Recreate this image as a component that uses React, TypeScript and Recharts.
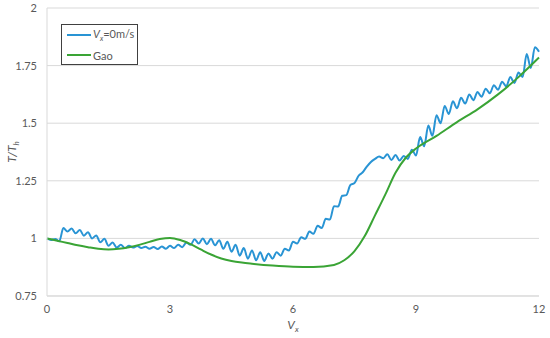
import { LineChart, Line, XAxis, YAxis, CartesianGrid } from 'recharts'

// blue series, sampled every 0.1 from 0 to 12
const blueStep = 0.1
const blueValues = [
  1.000, 0.993, 0.997, 0.988, 1.045, 1.030, 1.043, 1.022, 1.036, 1.012,
  1.027, 1.000, 1.013, 0.983, 0.998, 0.968, 0.982, 0.960, 0.972, 0.958,
  0.968, 0.960, 0.967, 0.958, 0.964, 0.955, 0.963, 0.954, 0.965, 0.955,
  0.968, 0.958, 0.972, 0.962, 0.982, 0.972, 0.996, 0.978, 1.000, 0.975,
  0.998, 0.970, 0.992, 0.955, 0.985, 0.942, 0.972, 0.925, 0.958, 0.912,
  0.948, 0.905, 0.940, 0.902, 0.935, 0.912, 0.940, 0.925, 0.955, 0.948,
  0.985, 0.978, 1.005, 0.998, 1.030, 1.020, 1.055, 1.045, 1.085, 1.082,
  1.140, 1.138, 1.185, 1.188, 1.232, 1.240, 1.272, 1.287, 1.312, 1.332,
  1.345, 1.355, 1.348, 1.365, 1.340, 1.362, 1.338, 1.358, 1.345, 1.385,
  1.360, 1.440, 1.400, 1.490, 1.445, 1.535, 1.500, 1.575, 1.540, 1.595,
  1.565, 1.610, 1.585, 1.625, 1.600, 1.635, 1.615, 1.650, 1.630, 1.665,
  1.645, 1.680, 1.660, 1.700, 1.675, 1.720, 1.700, 1.800, 1.740, 1.830,
  1.810,
]

const gaoX = [0, 0.25, 0.5, 0.75, 1, 1.25, 1.5, 1.75, 2, 2.25, 2.5, 2.75, 3, 3.25, 3.5, 3.75, 4, 4.25, 4.5, 4.75, 5, 5.5, 6, 6.5, 7, 7.25, 7.5, 7.75, 8, 8.25, 8.5, 8.75, 9, 9.5, 10, 10.5, 11, 11.5, 12]
const gaoValues = [1.0, 0.99, 0.98, 0.97, 0.962, 0.955, 0.952, 0.955, 0.962, 0.972, 0.985, 0.997, 1.002, 0.993, 0.975, 0.952, 0.93, 0.913, 0.902, 0.895, 0.89, 0.882, 0.877, 0.876, 0.885, 0.905, 0.945, 1.01, 1.1, 1.19, 1.285, 1.35, 1.39, 1.445, 1.505, 1.56, 1.625, 1.7, 1.785]

const xTicks = [0, 3, 6, 9, 12]
const yTicks = [0.75, 1, 1.25, 1.5, 1.75, 2]

const blueData = blueValues.map((y, i) => ({ x: +(i * blueStep).toFixed(2), y }))
const gaoData = gaoX.map((x, i) => ({ x, y: gaoValues[i] }))

const BLUE = '#2994d4'
const GREEN = '#3aa435'
const TEXT = '#595959'
const FONT = 'Lato, "Open Sans", sans-serif'

function LegendBox() {
  return (
    <div style={{ position: 'absolute', left: 61, top: 24, border: '1px solid #404040', width: 77, height: 41, boxSizing: 'border-box', background: '#fff', fontFamily: FONT, fontSize: 11, color: TEXT }}>
      <div style={{ position: 'absolute', left: 5, top: 3, display: 'flex', alignItems: 'center', height: 14, whiteSpace: 'nowrap' }}>
        <span style={{ display: 'inline-block', width: 24, height: 2, background: BLUE, marginRight: 2 }} />
        <span><i>V</i><sub style={{ fontSize: 7, fontStyle: 'italic' }}>x</sub>=0m/s</span>
      </div>
      <div style={{ position: 'absolute', left: 5, top: 23, display: 'flex', alignItems: 'center', height: 14 }}>
        <span style={{ display: 'inline-block', width: 24, height: 2, background: GREEN, marginRight: 2 }} />
        <span>Gao</span>
      </div>
    </div>
  )
}

export default function App() {
  return (
    <div style={{ position: 'absolute', left: 0, top: 0, width: 550, height: 338, background: '#fff' }}>
      <LineChart width={550} height={338} margin={{ top: 8, right: 11, left: 7, bottom: 12 }}>
        <CartesianGrid horizontal vertical={false} stroke="#d9d9d9" />
        <XAxis
          type="number"
          dataKey="x"
          domain={[0, 12]}
          ticks={xTicks}
          height={30}
          tickLine={false}
          tickSize={6}
          tickMargin={3}
          axisLine={{ stroke: '#d9d9d9' }}
          tick={{ fill: TEXT, fontSize: 11, fontFamily: FONT }}
          label={{
            content: ({ viewBox }: any) => (
              <text x={viewBox.x + viewBox.width / 2} y={viewBox.y + 33} fill={TEXT} fontFamily={FONT} fontSize={12} textAnchor="middle">
                <tspan fontStyle="italic">V</tspan>
                <tspan fontSize={8} dy={3} fontStyle="italic">x</tspan>
              </text>
            ),
          }}
        />
        <YAxis
          type="number"
          dataKey="y"
          domain={[0.75, 2]}
          ticks={yTicks}
          width={40}
          tickLine={false}
          tickSize={6}
          tickMargin={4}
          axisLine={{ stroke: '#d9d9d9' }}
          tick={{ fill: TEXT, fontSize: 11, fontFamily: FONT }}
          label={{
            content: ({ viewBox }: any) => {
              const cx = viewBox.x + 9
              const cy = viewBox.y + viewBox.height / 2
              return (
                <text x={cx} y={cy} transform={`rotate(-90 ${cx} ${cy})`} fill={TEXT} fontFamily={FONT} fontSize={12} textAnchor="middle">
                  <tspan fontStyle="italic">T/T</tspan>
                  <tspan fontSize={8} dy={3} fontStyle="italic">h</tspan>
                </text>
              )
            },
          }}
        />
        <Line data={blueData} dataKey="y" name="Vx=0m/s" type="monotone" stroke={BLUE} strokeWidth={2} dot={false} isAnimationActive={false} />
        <Line data={gaoData} dataKey="y" name="Gao" type="monotone" stroke={GREEN} strokeWidth={2} dot={false} isAnimationActive={false} />
      </LineChart>
      <LegendBox />
    </div>
  )
}
